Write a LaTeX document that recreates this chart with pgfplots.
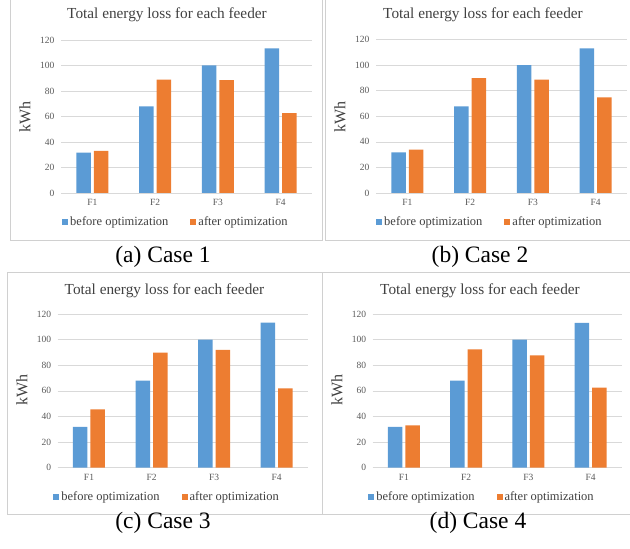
\documentclass[border=0pt]{standalone}
\usepackage{fontspec}
\setmainfont{Liberation Serif}
\usepackage{pgfplots}
\pgfplotsset{compat=1.18}
\definecolor{xblue}{HTML}{5B9BD5}
\definecolor{xorange}{HTML}{ED7D31}
\definecolor{gridc}{HTML}{D9D9D9}
\definecolor{tickc}{HTML}{595959}
\definecolor{framec}{HTML}{D0D0D0}
\definecolor{legc}{HTML}{404040}
\pgfplotsset{
 ybar legend/.style={/pgfplots/legend image code/.code={\fill[##1] (0pt,-3pt) rectangle (6pt,3pt);}},
 panel/.style={
  scale only axis,
  ybar=3pt, bar width=14.5pt,
  ymin=0, ymax=120, ytick={0,20,...,120},
  xmin=-0.5, xmax=3.5, xtick={0,1,2,3}, xticklabels={F1,F2,F3,F4},
  axis x line*=bottom, axis y line*=left,
  y axis line style={draw=none},
  x axis line style={draw=gridc, line width=0.8pt},
  ymajorgrids, grid style={gridc, line width=0.6pt},
  major tick length=0pt,
  tick label style={font=\fontsize{9.5}{10}\selectfont, text=tickc},
  /pgf/number format/assume math mode=true,
  yticklabel style={xshift=-3pt},
  xticklabel style={yshift=-3pt},
  legend columns=2,
  legend style={draw=none, fill=none, font=\fontsize{12.5}{14}\selectfont, text=legc,
    /tikz/every even column/.append style={column sep=20pt}, anchor=center},
 }
}
\begin{document}
\begin{tikzpicture}[x=1pt,y=1pt]
\path[use as bounding box] (0,0) rectangle (630,549);
% frames
\draw[framec, line width=0.8pt] (10,549) -- (10,309) -- (322,309) -- (322,549);
\draw[framec, line width=0.8pt] (325,549) -- (325,309) -- (630,309);
\draw[framec, line width=0.8pt] (7,35) rectangle (322,277);
\draw[framec, line width=0.8pt] (322,35) -- (630,35);
\draw[framec, line width=0.8pt] (322,277) -- (630,277);

% (a)
\begin{axis}[panel, at={(61pt,356pt)}, anchor=south west, width=251pt, height=153pt,
  legend style={at={(0.458,-0.19)}}]
\addplot[fill=xblue, draw=none] coordinates {(0,31.6) (1,68) (2,100) (3,113.5)};
\addplot[fill=xorange, draw=none] coordinates {(0,33) (1,89) (2,88.6) (3,62.7)};
\legend{before optimization, after optimization}
\end{axis}
% (b)
\begin{axis}[panel, at={(376pt,356pt)}, anchor=south west, width=251pt, height=153.5pt,
  legend style={at={(0.454,-0.19)}}]
\addplot[fill=xblue, draw=none] coordinates {(0,31.8) (1,67.7) (2,100) (3,113)};
\addplot[fill=xorange, draw=none] coordinates {(0,34) (1,89.8) (2,88.7) (3,74.8)};
\legend{before optimization, after optimization}
\end{axis}
% (c)
\begin{axis}[panel, at={(57.7pt,81.3pt)}, anchor=south west, width=250.3pt, height=153.7pt,
  legend style={at={(0.437,-0.19)}}]
\addplot[fill=xblue, draw=none] coordinates {(0,31.8) (1,67.9) (2,100) (3,113.2)};
\addplot[fill=xorange, draw=none] coordinates {(0,45.5) (1,89.8) (2,91.9) (3,62)};
\legend{before optimization, after optimization}
\end{axis}
% (d)
\begin{axis}[panel, at={(372.7pt,81.3pt)}, anchor=south west, width=249pt, height=153.7pt,
  legend style={at={(0.439,-0.19)}}]
\addplot[fill=xblue, draw=none] coordinates {(0,31.8) (1,68) (2,100) (3,113)};
\addplot[fill=xorange, draw=none] coordinates {(0,33) (1,92.4) (2,87.7) (3,62.5)};
\legend{before optimization, after optimization}
\end{axis}

% titles
\tikzset{ttl/.style={font=\fontsize{15.3}{17}\selectfont, text=legc},
         ylab/.style={rotate=90, font=\fontsize{16}{18}\selectfont, text=legc},
         capt/.style={font=\fontsize{23.5}{26}\selectfont}}
\node[ttl] at (167,534) {Total energy loss for each feeder};
\node[ttl] at (483,534) {Total energy loss for each feeder};
\node[ttl] at (164.5,258) {Total energy loss for each feeder};
\node[ttl] at (480,258) {Total energy loss for each feeder};
\node[ylab] at (25,432) {kWh};
\node[ylab] at (340,432) {kWh};
\node[ylab] at (22,159) {kWh};
\node[ylab] at (337,159) {kWh};
\node[capt] at (163,292) {(a) Case 1};
\node[capt] at (480,292) {(b) Case 2};
\node[capt] at (163,26) {(c) Case 3};
\node[capt] at (478,26) {(d) Case 4};
\end{tikzpicture}
\end{document}
